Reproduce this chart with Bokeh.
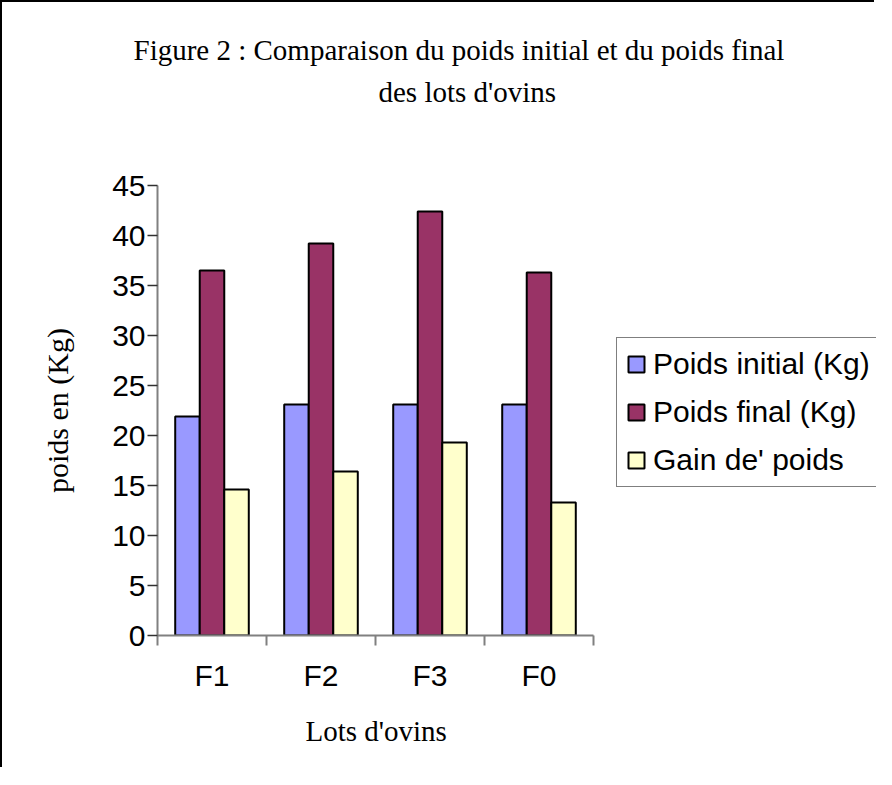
from bokeh.plotting import figure
from bokeh.models import (ColumnDataSource, Range1d, FixedTicker, Legend,
                          LegendItem, Title)
from bokeh.transform import dodge
from bokeh.embed import file_html
from bokeh.resources import INLINE

# ---- data ----
categories = ["F1", "F2", "F3", "F0"]
poids_initial = [21.9, 23.1, 23.1, 23.1]
poids_final = [36.5, 39.2, 42.4, 36.3]
gain_poids = [14.6, 16.4, 19.3, 13.3]
series_names = ["Poids initial (Kg)", "Poids final (Kg)", "Gain de' poids"]
y_ticks = [0, 5, 10, 15, 20, 25, 30, 35, 40, 45]
title_lines = ["Figure 2 : Comparaison du poids initial et du poids final",
               "des lots d'ovins"]
x_title = "Lots d'ovins"
y_title = "poids en (Kg)"

colors = ["#9999FF", "#993366", "#FFFFCC"]

xpos = [i + 0.5 for i in range(len(categories))]
src = ColumnDataSource(dict(x=xpos, init=poids_initial, fin=poids_final,
                            gain=gain_poids))

# layout (pixels): the frame runs to the right edge so the legend is not clipped;
# the x axis itself is bounded to the category span.
W, H = 874, 767
ML, MT, FH = 155, 183, 451
CAT_PX = 109.0                      # pixels per category
FW = W - ML
n = len(categories)
p = figure(width=W, height=H,
           x_range=Range1d(0, FW / CAT_PX), y_range=Range1d(0, 45),
           output_backend="svg", toolbar_location=None,
           min_border_left=ML, min_border_right=0,
           min_border_top=MT, min_border_bottom=H - MT - FH)
p.title.visible = False
p.styles = {"border-left": "2px solid black", "border-top": "2px solid black"}
p.outline_line_color = None
p.grid.visible = False
p.background_fill_color = "white"
p.border_fill_color = "white"

bw = 0.225
r1 = p.vbar(x=dodge("x", -bw, range=p.x_range), top="init", width=bw, source=src,
            fill_color=colors[0], line_color="black", line_width=2)
r2 = p.vbar(x=dodge("x", 0, range=p.x_range), top="fin", width=bw, source=src,
            fill_color=colors[1], line_color="black", line_width=2)
r3 = p.vbar(x=dodge("x", bw, range=p.x_range), top="gain", width=bw, source=src,
            fill_color=colors[2], line_color="black", line_width=2)

# x axis
xa = p.xaxis[0]
xa.bounds = (0, n)
xa.ticker = FixedTicker(ticks=xpos, minor_ticks=list(range(n + 1)))
xa.major_label_overrides = {x: c for x, c in zip(xpos, categories)}
xa.major_tick_out = 0
xa.major_tick_in = 0
xa.minor_tick_out = 10
xa.minor_tick_in = 0
xa.minor_tick_line_color = "#808080"
xa.minor_tick_line_width = 2
xa.axis_line_color = "#808080"
xa.axis_line_width = 2
xa.major_label_text_font = "Liberation Sans"
xa.major_label_text_font_size = "30px"
xa.major_label_text_color = "black"
xa.major_label_standoff = 13

# y axis
ya = p.yaxis[0]
ya.ticker = FixedTicker(ticks=y_ticks, minor_ticks=[])
ya.major_tick_out = 10
ya.major_tick_in = 0
ya.major_tick_line_color = "#303030"
ya.major_tick_line_width = 1.5
ya.minor_tick_line_color = None
ya.axis_line_color = "#808080"
ya.axis_line_width = 2
ya.major_label_text_font = "Liberation Sans"
ya.major_label_text_font_size = "30px"
ya.major_label_text_color = "black"
ya.major_label_standoff = 2
ya.axis_label = y_title
ya.axis_label_text_font = "Liberation Serif"
ya.axis_label_text_font_size = "30px"
ya.axis_label_text_font_style = "normal"
ya.axis_label_text_color = "black"
ya.axis_label_standoff = 35

# title: stacked in the "above" panel (first item = nearest the frame)
def spacer(h):
    return Title(text=" ", text_font_size="2px", standoff=h, vertical_align="bottom")

tfont = dict(text_font="Liberation Serif", text_font_size="29px",
             text_font_style="normal", text_color="black", align="left")
p.add_layout(spacer(65), "above")
p.add_layout(Title(text=title_lines[1], offset=221, standoff=17,
                   vertical_align="bottom", **tfont), "above")
p.add_layout(Title(text=title_lines[0], offset=-24, standoff=0,
                   vertical_align="bottom", **tfont), "above")
p.add_layout(spacer(24), "above")

# x-axis title, centred under the category span (below the axis)
p.add_layout(Title(text=x_title, offset=148, standoff=41,
                   vertical_align="top", **tfont), "below")

legend = Legend(items=[LegendItem(label=series_names[0], renderers=[r1]),
                       LegendItem(label=series_names[1], renderers=[r2]),
                       LegendItem(label=series_names[2], renderers=[r3])],
                location=(459, 148), orientation="vertical",
                glyph_width=20, glyph_height=20, label_standoff=7,
                padding=9, spacing=14, margin=0,
                label_text_font="Liberation Sans", label_text_font_size="30px",
                label_text_color="black",
                border_line_color="black", border_line_width=1.5,
                background_fill_color="white", background_fill_alpha=1)
p.add_layout(legend)

open("out.html", "w").write(file_html(p, INLINE))
